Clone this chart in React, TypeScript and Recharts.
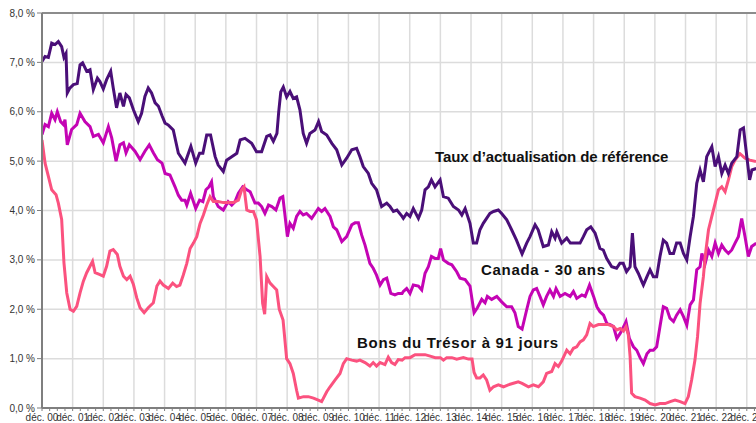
import { CartesianGrid, Line, LineChart, ReferenceLine, XAxis, YAxis } from "recharts";

// [mois depuis déc. 2000, taux en %]
const tauxReference: [number, number][] = [
  [0, 7.02], [1.2, 7.12], [2.5, 7.1], [3.8, 7.39], [5.1, 7.36], [6.4, 7.42], [7.7, 7.32], [8.6, 7.1],
  [9.4, 7.18], [9.9, 6.38], [10.9, 6.48], [12.3, 6.55], [13.8, 6.57], [14.9, 6.95], [15.9, 6.99],
  [17.5, 6.82], [18.8, 6.85], [20.1, 6.45], [21.7, 6.68], [22.7, 6.61], [24, 6.46], [25.3, 6.65],
  [26.9, 6.82], [27.9, 6.48], [29.2, 6.08], [30.5, 6.38], [31.9, 6.11], [32.9, 6.35], [34.2, 6.28],
  [35.8, 6.04], [37.7, 5.8], [39, 5.97], [40.3, 6.31], [41.6, 6.48], [42.9, 6.38], [44.3, 6.18],
  [45.6, 6.11], [47, 5.92], [48.2, 5.77], [49.5, 5.73], [51.4, 5.63], [53.4, 5.16], [56, 4.96],
  [58.3, 5.3], [60.2, 4.96], [61.7, 5.16], [63, 5.16], [64.5, 5.53], [66, 5.53], [67.8, 5.09],
  [69, 4.92], [71, 4.79], [72.3, 5.02], [74.3, 5.09], [76.3, 5.16], [77.6, 5.43], [79.5, 5.46],
  [82.1, 5.36], [84, 5.19], [86, 5.19], [88, 5.5], [89.3, 5.53], [90.6, 5.4], [92, 5.56], [92.7, 6.0],
  [93.5, 6.4], [94.5, 6.5], [95.8, 6.3], [97.1, 6.41], [98.4, 6.27], [99.7, 6.3], [101, 6.04],
  [102.3, 5.56], [103.6, 5.36], [104.9, 5.56], [106.9, 5.63], [108.3, 5.8], [109.5, 5.6], [111.5, 5.53],
  [113.5, 5.36], [115.4, 5.23], [117.4, 4.92], [119.3, 5.06], [121.3, 5.23], [123.2, 5.26], [124.5, 5.09],
  [125.8, 4.89], [127.8, 4.75], [129.1, 4.55], [131, 4.42], [133, 4.08], [135, 4.15], [136.3, 4.08],
  [137.6, 3.98], [139, 4.01], [141, 3.88], [141.5, 3.84], [142.8, 3.94], [144.1, 3.88], [145.4, 4.04],
  [147.4, 3.84], [148.7, 4.01], [150, 4.42], [151.3, 4.48], [152.5, 4.62], [153.9, 4.48], [155.9, 4.62],
  [157.2, 4.28], [159.1, 4.25], [161.1, 4.08], [163.1, 4.01], [164.4, 3.91], [165.7, 4.04], [167.6, 3.74],
  [168.9, 3.34], [170.2, 3.34], [171.5, 3.61], [172.8, 3.74], [174.1, 3.84], [175.4, 3.94], [176.8, 3.98],
  [178.7, 4.01], [180, 3.94], [182, 3.81], [183.9, 3.61], [185.8, 3.4], [188, 3.12], [189.8, 3.34],
  [191.1, 3.47], [193.1, 3.71], [194.3, 3.61], [196.3, 3.27], [198.3, 3.3], [199.6, 3.57], [200.9, 3.44],
  [201.6, 3.57], [203.5, 3.34], [205.5, 3.44], [206.9, 3.34], [208.8, 3.34], [210.7, 3.34], [212, 3.47],
  [213.3, 3.61], [214.9, 3.67], [216.6, 3.54], [218.5, 3.23], [219.8, 3.2], [221.1, 3.03], [223.1, 2.86],
  [225, 2.83], [226.3, 2.93], [227.6, 2.93], [228.9, 2.76], [230.3, 2.86], [231.2, 3.54], [232.2, 2.86],
  [233.5, 2.73], [234.9, 2.56], [235.5, 2.49], [236.9, 2.66], [238.1, 2.8], [239.4, 2.66], [240.7, 2.66],
  [242, 3.07], [243.3, 3.4], [244.6, 3.34], [245.9, 3.13], [247.3, 3.13], [248.5, 3.34], [249.9, 3.34],
  [251.2, 3.13], [252.5, 3.0], [253.8, 3.47], [255.1, 3.88], [256.4, 4.55], [257.7, 4.82], [259, 4.58],
  [260.3, 5.09], [262.3, 5.29], [263.6, 4.89], [264.9, 5.09], [266.2, 4.75], [267.5, 4.92], [268.8, 4.75],
  [270.1, 4.96], [272.1, 5.09], [273.4, 5.63], [274.7, 5.67], [276, 5.09], [277.1, 4.62], [278, 4.82],
  [279.7, 4.85],
];

const canada30: [number, number][] = [
  [0, 5.54], [1.2, 5.74], [2.5, 5.7], [3.8, 5.97], [5.1, 5.84], [6, 6.0], [7.3, 5.8], [8.4, 5.74],
  [9, 5.84], [9.9, 5.33], [11.6, 5.64], [13.6, 5.74], [14.9, 5.97], [16.8, 5.8], [18.8, 5.7], [20.1, 5.5],
  [22.1, 5.54], [24, 5.37], [26, 5.7], [27.3, 5.47], [29, 5.0], [30.5, 5.33], [31.9, 5.37], [32.9, 5.17],
  [34.2, 5.33], [36.4, 5.2], [38.4, 5.03], [40.3, 5.2], [42, 5.33], [43.6, 5.17], [45.2, 5.03], [47, 4.96],
  [48.2, 4.75], [50.1, 4.72], [52.1, 4.48], [53.4, 4.31], [54.7, 4.21], [56, 4.21], [56.7, 4.11],
  [58.2, 4.35], [60.2, 4.04], [61.7, 4.21], [63, 4.18], [64.2, 4.42], [65.4, 4.48], [66.4, 4.58],
  [67.1, 4.28], [69, 4.08], [71, 4.01], [72.9, 4.18], [74.3, 4.11], [75.6, 4.18], [76.9, 4.35],
  [78.6, 4.48], [80.2, 4.42], [81.5, 4.38], [83.4, 4.15], [84.7, 4.15], [86, 4.08], [87.3, 3.94],
  [88.7, 4.11], [90, 4.08], [91.6, 4.01], [93.2, 4.25], [94.3, 4.28], [95.2, 3.88], [96.1, 3.47],
  [97.1, 3.74], [98.4, 3.64], [99.7, 3.88], [101, 3.98], [102.3, 3.91], [103.6, 3.94], [105.6, 3.84],
  [106.9, 3.94], [108.2, 4.04], [109.5, 3.98], [110.8, 4.04], [112.8, 3.88], [114.1, 3.67], [115.4, 3.61],
  [117.4, 3.37], [119.3, 3.47], [121.3, 3.71], [122.6, 3.75], [123.9, 3.75], [125.2, 3.5], [126.5, 3.3],
  [128.4, 2.93], [129.7, 2.83], [131, 2.69], [132.4, 2.49], [133.7, 2.6], [135, 2.63], [136.6, 2.32],
  [138.2, 2.29], [139.5, 2.32], [141, 2.32], [141.5, 2.36], [142.8, 2.42], [144.1, 2.32], [145.4, 2.49],
  [147.4, 2.47], [148.7, 2.39], [150, 2.73], [151.3, 2.86], [152.5, 3.07], [153.9, 3.03], [155.2, 3.03],
  [156.1, 3.23], [157.2, 3.0], [159.1, 2.93], [160.5, 2.9], [162.4, 2.76], [163.7, 2.63], [165.7, 2.6],
  [167.6, 2.47], [169.2, 1.93], [170.5, 2.03], [172.2, 2.2], [173.5, 2.13], [174.4, 2.26], [176.1, 2.2],
  [178.1, 2.26], [180, 2.15], [182, 2.05], [183.9, 2.05], [185.2, 1.93], [186.5, 1.65], [188, 1.6],
  [189.8, 1.99], [191.1, 2.26], [192.4, 2.39], [193.7, 2.42], [195, 2.26], [196.3, 2.09], [197.6, 2.26],
  [198.9, 2.39], [200.3, 2.26], [201.3, 2.42], [202.9, 2.26], [204.8, 2.32], [206.8, 2.26], [208.1, 2.36],
  [209.4, 2.22], [211.4, 2.29], [212.7, 2.26], [214.4, 2.49], [216, 2.26], [217.3, 2.05], [218.5, 1.95],
  [219.9, 1.88], [221.2, 1.71], [222.5, 1.69], [223.8, 1.65], [225.1, 1.41], [226.4, 1.51], [227.8, 1.65],
  [228.7, 1.75], [230, 1.41], [231.6, 1.24], [232.9, 1.17], [234.2, 1.02], [235.5, 0.9], [236.9, 1.1],
  [238.1, 1.17], [239.4, 1.17], [240.7, 1.24], [242, 1.65], [243.3, 2.05], [244.6, 2.02], [245.9, 1.82],
  [247.3, 1.75], [248.5, 1.88], [249.9, 1.99], [251.2, 1.85], [252.5, 1.68], [253.8, 2.09], [255.1, 2.19],
  [256.4, 2.8], [257.7, 2.86], [258.4, 3.13], [259.7, 2.93], [261, 3.2], [262.3, 3.07], [263.6, 3.34],
  [264.9, 3.13], [266.2, 3.3], [267.5, 3.2], [268.8, 3.13], [270.1, 3.2], [271.4, 3.34], [272.7, 3.47],
  [274, 3.84], [275.3, 3.47], [276.6, 3.07], [277.9, 3.27], [279.7, 3.34],
];

const bons91: [number, number][] = [
  [0, 5.43], [1.2, 4.96], [2.5, 4.69], [3.8, 4.42], [5.5, 4.32], [6.4, 4.15], [7.7, 3.82], [8.6, 2.94],
  [9.7, 2.33], [11, 2.0], [12.3, 1.96], [13.6, 2.06], [14.9, 2.33], [16.2, 2.57], [17.5, 2.74], [18.8, 2.87],
  [19.8, 2.97], [20.8, 2.74], [22.7, 2.7], [24, 2.67], [25.3, 2.87], [26.6, 3.18], [27.9, 3.21], [29.5, 3.11],
  [30.5, 2.87], [31.9, 2.67], [33.2, 2.6], [34.5, 2.67], [35.8, 2.5], [37.1, 2.23], [38.4, 2.03], [40, 1.93],
  [41.6, 2.03], [43.6, 2.13], [45, 2.47], [46.2, 2.57], [47.5, 2.49], [49.5, 2.42], [51.2, 2.53], [52.7, 2.46],
  [54, 2.49], [55.3, 2.69], [56.7, 2.93], [58, 3.23], [59.3, 3.34], [60.6, 3.47], [61.9, 3.74], [63.2, 3.91],
  [64.5, 4.11], [65.8, 4.28], [67.1, 4.18], [69, 4.18], [71, 4.16], [72.9, 4.16], [74.9, 4.16], [76.9, 4.21],
  [78.2, 4.42], [79.1, 4.48], [80.2, 4.01], [81.5, 3.98], [82.8, 3.98], [84, 3.81], [85.4, 3.07], [86.4, 2.12],
  [87.2, 1.9], [88, 2.66], [89.3, 2.53], [90.6, 2.46], [91.9, 2.39], [92.9, 2.0], [94.4, 1.78], [95.8, 1.0],
  [97.1, 0.9], [98.4, 0.7], [99.7, 0.36], [100.4, 0.2], [102.4, 0.23], [104.3, 0.23], [106.3, 0.2],
  [108.2, 0.16], [109.5, 0.13], [111.5, 0.33], [112.8, 0.43], [114.8, 0.57], [116.7, 0.7], [118, 0.9],
  [119.3, 1.0], [121.3, 0.97], [123.2, 0.95], [124.5, 0.97], [126.5, 0.92], [128.4, 0.85], [129.7, 0.92],
  [131, 0.85], [132.4, 0.92], [134.3, 0.88], [135.6, 1.03], [136.9, 0.92], [138.2, 0.88], [139.5, 0.98],
  [141, 0.97], [142.2, 1.02], [144.1, 1.02], [146.1, 1.08], [148.1, 1.08], [150, 1.08], [152, 1.05], [154, 1.02],
  [156, 1.02], [157.2, 0.97], [158.5, 1.02], [160.5, 1.02], [162.4, 0.99], [165, 1.02], [167, 0.99], [168.4, 0.99],
  [169.2, 0.72], [170.2, 0.61], [171.5, 0.61], [172.8, 0.67], [174.1, 0.57], [175.4, 0.36], [176.8, 0.43],
  [178.7, 0.47], [180.7, 0.43], [182.6, 0.47], [184.6, 0.5], [186.5, 0.53], [188, 0.5], [190.5, 0.43],
  [192.4, 0.47], [194.4, 0.43], [196.3, 0.53], [197.6, 0.7], [199.6, 0.74], [200.9, 0.9], [202.2, 0.84],
  [203.5, 0.95], [205.5, 1.17], [206.8, 1.1], [208.1, 1.21], [209.4, 1.24], [210.7, 1.34], [212, 1.38],
  [213.3, 1.48], [214.6, 1.71], [215.9, 1.65], [217.9, 1.69], [219.9, 1.69], [221.8, 1.69], [223.8, 1.65],
  [225.1, 1.58], [226.4, 1.61], [227.7, 1.56], [228.7, 1.65], [229.6, 1.48], [230.3, 1.04], [230.9, 0.3],
  [232.2, 0.23], [234.2, 0.2], [236.2, 0.16], [238.1, 0.09], [240.1, 0.06], [242, 0.09], [244, 0.09],
  [246, 0.13], [247.9, 0.16], [249.9, 0.13], [251.8, 0.09], [253.1, 0.23], [254.4, 0.57], [255.7, 0.97],
  [256.7, 1.44], [257.7, 2.12], [259, 2.66], [259.7, 3.07], [261, 3.61], [262.3, 3.88], [263.6, 4.15],
  [264.9, 4.42], [266.2, 4.48], [267.5, 4.38], [268.8, 4.62], [270.1, 4.89], [271.4, 5.02], [273.3, 5.15],
  [275.3, 5.06], [277.2, 5.02], [279.6, 4.99],
];

const tickLabels = [
  "déc. 00", "déc. 01", "déc. 02", "déc. 03", "déc. 04", "déc. 05", "déc. 06", "déc. 07",
  "déc. 08", "déc. 09", "déc. 10", "déc. 11", "déc. 12", "déc. 13", "déc. 14", "déc. 15",
  "déc. 16", "déc. 17", "déc. 18", "déc. 19", "déc. 20", "déc. 21", "déc. 22", "déc. 23",
];
const yTicks = [0, 1, 2, 3, 4, 5, 6, 7, 8];

const yearTicks = tickLabels.map((_, k) => k * 12);
const quarterTicks = Array.from({ length: 94 }, (_, k) => k * 3);

const toRows = (pts: [number, number][]) => pts.map(([m, v]) => ({ m, v }));

const FONT = "'Liberation Sans', Arial, sans-serif";

const MonthTick = (props: any) => {
  const { x, y, payload } = props;
  const m = payload.value as number;
  const label = m % 12 === 0 ? tickLabels[m / 12] : null;
  return (
    <g>
      <line x1={x} x2={x} y1={y} y2={y + 3} stroke="#7f7f7f" strokeWidth={1} />
      {label && (
        <text x={x} y={y + 13} textAnchor="middle" fontSize={10} fill="#333" fontFamily={FONT}>
          {label}
        </text>
      )}
    </g>
  );
};

const annotation = {
  position: "absolute" as const,
  fontFamily: FONT,
  fontWeight: "bold" as const,
  fontSize: 15,
  lineHeight: "15px",
  color: "#111",
  whiteSpace: "nowrap" as const,
};

export default function App() {
  return (
    <div style={{ position: "absolute", left: 0, top: 0, width: 756, height: 423, fontFamily: FONT, background: "#fff", overflow: "hidden" }}>
      <LineChart width={756} height={423} margin={{ top: 13, right: 0, bottom: 0, left: 0 }}>
        <CartesianGrid stroke="#dcdcdc" strokeWidth={1.5} verticalValues={yearTicks} />
        <XAxis
          dataKey="m"
          type="number"
          domain={[0, 279.6]}
          allowDataOverflow
          ticks={quarterTicks}
          interval={0}
          height={15}
          tickSize={0}
          tickMargin={0}
          tickLine={false}
          tick={<MonthTick />}
          axisLine={{ stroke: "#7f7f7f", strokeWidth: 2 }}
        />
        <YAxis
          type="number"
          domain={[0, 8]}
          ticks={yTicks}
          interval={0}
          width={42}
          tickSize={5}
          tickMargin={2}
          tick={{ fontSize: 10, fill: "#333", fontFamily: FONT }}
          tickLine={{ stroke: "#7f7f7f" }}
          axisLine={{ stroke: "#7f7f7f", strokeWidth: 2 }}
          tickFormatter={(v: number) => v.toFixed(1).replace(".", ",") + " %"}
        />
        <ReferenceLine y={8} stroke="#8c8c8c" strokeWidth={2} />
        <Line data={toRows(canada30)} dataKey="v" type="linear" stroke="#c404b4" strokeWidth={3} dot={false} isAnimationActive={false} />
        <Line data={toRows(bons91)} dataKey="v" type="linear" stroke="#fb527f" strokeWidth={3} dot={false} isAnimationActive={false} />
        <Line data={toRows(tauxReference)} dataKey="v" type="linear" stroke="#4a0f78" strokeWidth={3} dot={false} isAnimationActive={false} />
      </LineChart>
      <div style={{ ...annotation, left: 435, top: 149, letterSpacing: -0.1 }}>Taux d’actualisation de référence</div>
      <div style={{ ...annotation, left: 481, top: 262, letterSpacing: 0.7 }}>Canada - 30 ans</div>
      <div style={{ ...annotation, left: 357, top: 335, letterSpacing: 0.7 }}>Bons du Trésor à 91 jours</div>
    </div>
  );
}
